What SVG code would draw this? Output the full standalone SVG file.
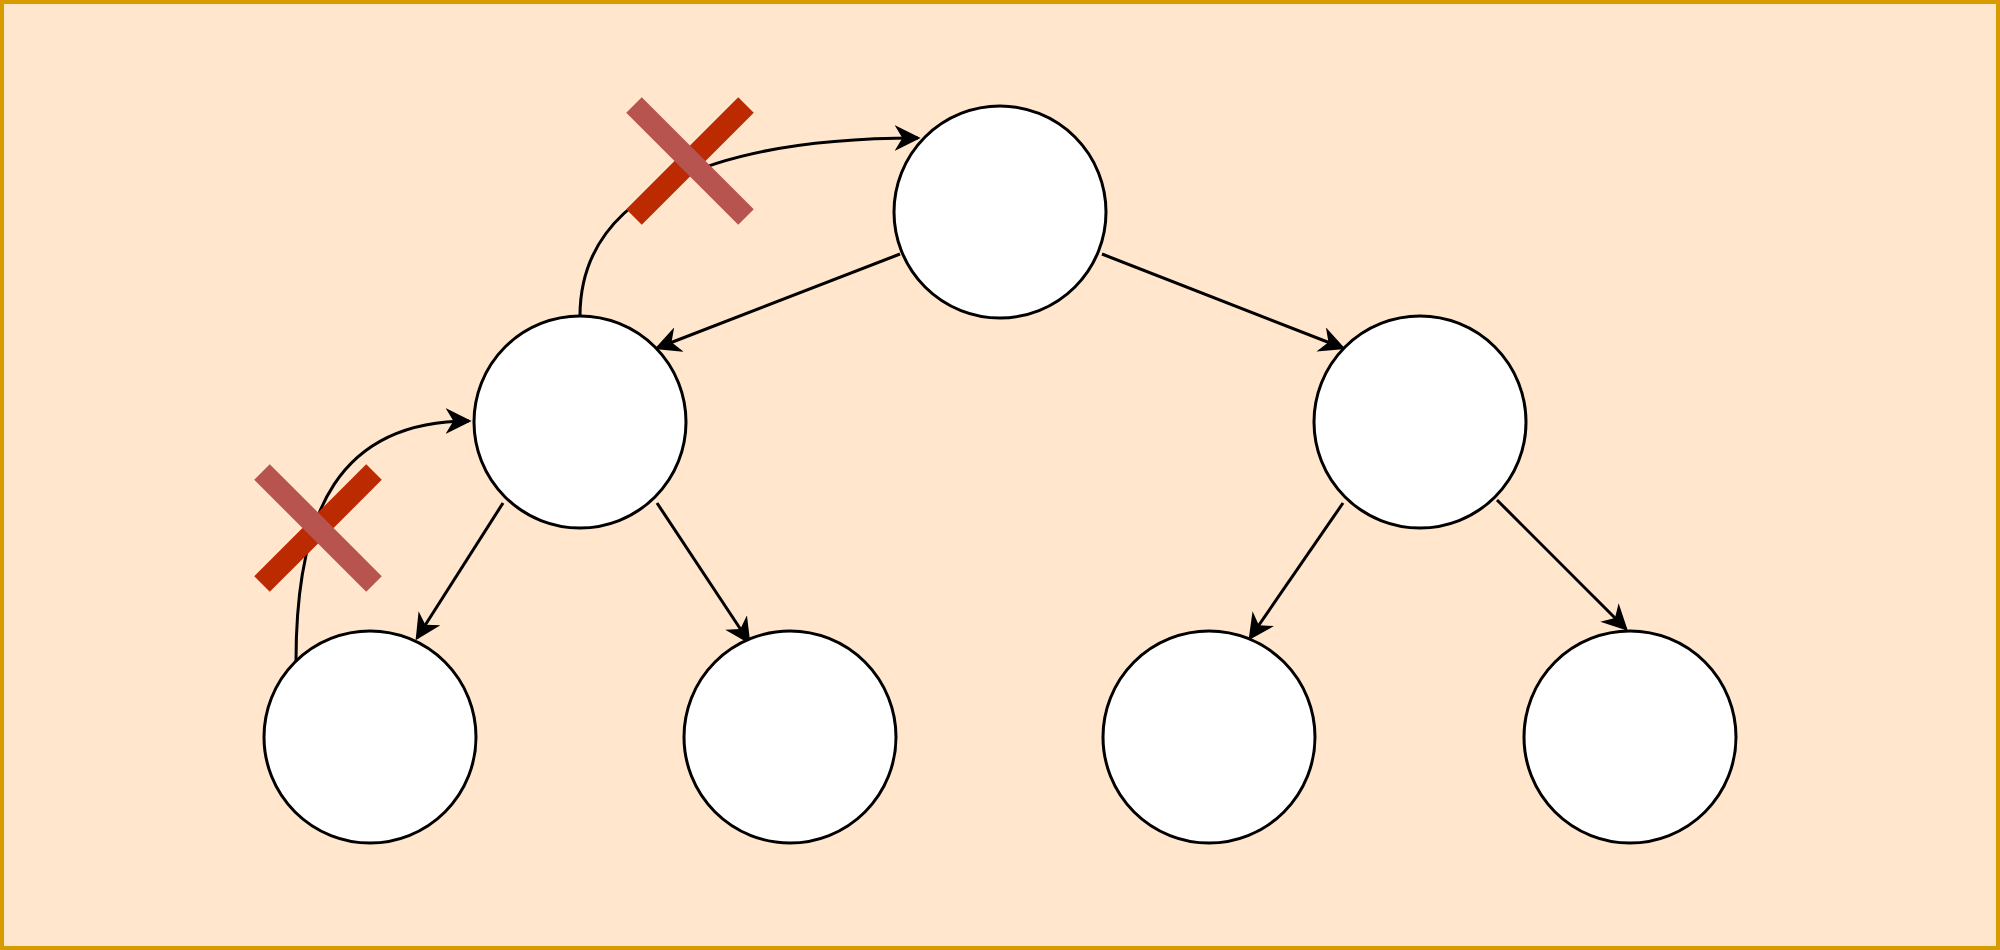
<svg xmlns="http://www.w3.org/2000/svg" width="2000" height="950" viewBox="0 0 2000 950">
<style>
.e{fill:none;stroke:#000;stroke-width:3;marker-end:url(#b)}
.n{fill:#fff;stroke:#000;stroke-width:3}
.x1{stroke:#b85450;stroke-width:22}
.x2{stroke:#bb2a00;stroke-width:22}
</style>
<defs>
<marker id="b" viewBox="0 0 10 10" refX="9" refY="5" markerWidth="26" markerHeight="26" markerUnits="userSpaceOnUse" orient="auto"><path d="M0,0 L10,5 L0,10 L3,5 Z" fill="#000"/></marker></defs>
<rect x="2" y="2" width="1996" height="946" fill="#ffe6cc" stroke="#d79b00" stroke-width="4"/>
<g id="connectors">
<path class="e" d="M900,254 L657,348"/>
<path class="e" d="M1102,254 L1343,348"/>
<path class="e" d="M503,503 L417,638"/>
<path class="e" d="M657,503 L749,642"/>
<path class="e" d="M1343,503 L1250,638"/>
<path class="e" d="M1497,500 L1626,629"/>
<path class="e" d="M580,316 C580,190 720,138 918,138"/>
<path class="e" d="M296,661 C296,510 340,421 469,421"/>
</g>
<g id="cross1"><line class="x2" x1="746" y1="105" x2="634" y2="217"/><line class="x1" x1="634" y1="105" x2="746" y2="217"/></g>
<g id="cross2"><line class="x2" x1="374" y1="472" x2="262" y2="584"/><line class="x1" x1="262" y1="472" x2="374" y2="584"/></g>
<g id="root"><circle class="n" cx="1000" cy="212" r="106"/></g>
<g id="left"><circle class="n" cx="580" cy="422" r="106"/></g>
<g id="right"><circle class="n" cx="1420" cy="422" r="106"/></g>
<g id="ll"><circle class="n" cx="370" cy="737" r="106"/></g>
<g id="lr"><circle class="n" cx="790" cy="737" r="106"/></g>
<g id="rl"><circle class="n" cx="1209" cy="737" r="106"/></g>
<g id="rr"><circle class="n" cx="1630" cy="737" r="106"/></g>
</svg>
